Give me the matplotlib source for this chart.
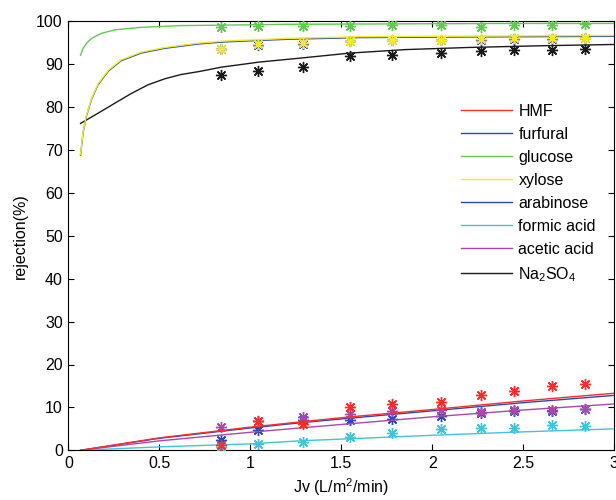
import matplotlib
matplotlib.use("Agg")
import matplotlib.pyplot as plt

plt.rcParams["font.family"] = ["Liberation Sans", "DejaVu Sans"]
plt.rcParams["mathtext.fontset"] = "custom"
plt.rcParams["mathtext.rm"] = "Liberation Sans"
plt.rcParams["mathtext.it"] = "Liberation Sans:italic"

# measured points
jv = [0.84, 1.04, 1.29, 1.55, 1.78, 2.05, 2.27, 2.45, 2.66, 2.84]
hmf_pts = [1.2, 6.8, 6.2, 10.1, 10.9, 11.3, 12.8, 13.8, 14.9, 15.5]
furfural_pts = [2.3, 4.7, 7.0, 7.0, 7.4, 7.9, 8.7, 9.1, 9.1, 9.6]
glucose_pts = [98.7, 98.8, 98.9, 98.9, 99.1, 99.2, 98.7, 99.1, 99.1, 99.3]
xylose_pts = [93.6, 94.6, 94.9, 95.4, 95.7, 95.7, 95.8, 96.0, 96.0, 96.1]
arabinose_pts = [93.5, 94.5, 94.8, 95.3, 95.6, 95.6, 95.7, 95.9, 95.9, 96.0]
formic_pts = [0.8, 1.4, 1.9, 3.1, 4.0, 4.9, 5.3, 5.3, 6.0, 5.6]
acetic_pts = [5.4, 6.8, 7.8, 8.5, 9.1, 9.3, 8.9, 9.3, 9.3, 9.7]
na2so4_pts = [87.4, 88.3, 89.4, 91.8, 92.1, 92.6, 93.0, 93.2, 93.4, 93.6]

# fitted model curves
low_x = [0.067, 0.5, 1.0, 1.27, 1.55, 2.0, 2.5, 3.0]
hmf_fit = [0.0, 2.9, 5.4, 6.6, 7.8, 9.5, 11.5, 13.3]
furfural_fit = [0.0, 2.8, 5.2, 6.4, 7.5, 9.2, 11.1, 12.8]
formic_fit = [0.0, 0.8, 1.5, 2.2, 2.7, 3.5, 4.3, 5.0]
acetic_fit = [0.0, 2.2, 4.2, 5.2, 6.2, 7.8, 9.4, 10.8]

sugar_x = [0.067, 0.081, 0.10, 0.127, 0.164, 0.22, 0.29, 0.40, 0.53, 0.71,
           0.86, 1.2, 1.6, 2.0, 2.5, 3.0]
xylose_fit = [69.0, 74.3, 78.2, 82.0, 85.5, 88.6, 91.0, 92.8, 93.9, 94.9,
              95.4, 96.0, 96.4, 96.5, 96.6, 96.7]
arabinose_fit = [68.8, 74.1, 78.0, 81.8, 85.3, 88.4, 90.8, 92.6, 93.7, 94.7,
                 95.2, 95.8, 96.2, 96.3, 96.4, 96.5]
glucose_x = [0.067, 0.081, 0.10, 0.127, 0.182, 0.255, 0.40, 0.62, 0.84, 1.2,
             1.8, 2.4, 3.0]
glucose_fit = [92.1, 93.7, 94.9, 96.0, 97.2, 98.0, 98.6, 99.0, 99.1, 99.3,
               99.4, 99.5, 99.5]
na2so4_x = [0.067, 0.164, 0.255, 0.347, 0.438, 0.53, 0.62, 0.72, 0.84, 1.05,
            1.27, 1.55, 1.85, 2.2, 2.6, 3.0]
na2so4_fit = [76.2, 78.6, 80.9, 83.2, 85.2, 86.6, 87.6, 88.3, 89.3, 90.5,
              91.4, 92.6, 93.4, 93.9, 94.3, 94.6]

series = [
    ("HMF", low_x, hmf_fit, hmf_pts, "#ff2a2a", 5),
    ("furfural", low_x, furfural_fit, furfural_pts, "#2c48b8", 4),
    ("glucose", glucose_x, glucose_fit, glucose_pts, "#62c852", 4),
    ("xylose", sugar_x, xylose_fit, xylose_pts, "#f2ec1e", 5),
    ("arabinose", sugar_x, arabinose_fit, arabinose_pts, "#2c48b8", 3),
    ("formic acid", low_x, formic_fit, formic_pts, "#42c4d8", 4),
    ("acetic acid", low_x, acetic_fit, acetic_pts, "#a848b0", 4),
    (r"Na$\mathregular{_2}$SO$\mathregular{_4}$", na2so4_x, na2so4_fit,
     na2so4_pts, "#1a1a1a", 4),
]

fig = plt.figure(figsize=(6.16, 5.0), dpi=100)
ax = fig.add_axes([0.111, 0.0994, 0.886, 0.8580])

star = (8, 2, 0)
for label, cx, cy, pts, color, z in series:
    ax.plot(cx, cy, color=color, lw=1.0, label=label, zorder=z)
    ax.plot(jv, pts, linestyle="none", marker=star, markersize=8,
            markeredgewidth=1.0, color=color, zorder=z)

ax.set_xlim(0, 3)
ax.set_ylim(0, 100)
ax.set_xticks([0, 0.5, 1, 1.5, 2, 2.5, 3])
ax.set_xticklabels(["0", "0.5", "1", "1.5", "2", "2.5", "3"])
ax.set_yticks(range(0, 101, 10))
ax.tick_params(direction="in", top=True, right=True, length=4, width=0.8,
               labelsize=11.5, pad=4)
ax.set_xlabel(r"Jv (L/m$\mathregular{^2}$/min)", fontsize=11.5, labelpad=4)
ax.set_ylabel("rejection(%)", fontsize=11.5, labelpad=6)
for s in ax.spines.values():
    s.set_linewidth(0.8)

ax.legend(loc="upper left", bbox_to_anchor=(461.0 / 616, 1 - 104.0 / 500),
          bbox_transform=fig.transFigure, frameon=False, fontsize=11.5,
          handlelength=3.2, handletextpad=0.4, labelspacing=0.5,
          borderpad=0, borderaxespad=0)

fig.savefig("out.png", dpi=100)
